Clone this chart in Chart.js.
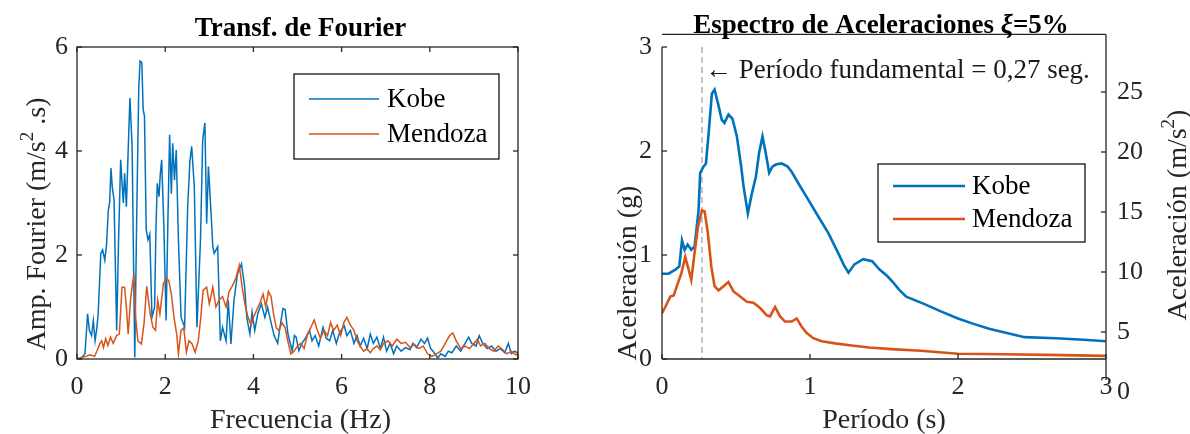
<!DOCTYPE html>
<html lang="es">
<head>
<meta charset="UTF-8">
<title>Transformada de Fourier y espectro de aceleraciones</title>
<style>
  body { margin: 0; background: #fff; }
  canvas { position: absolute; top: 0; }
  #fourier { left: 0; }
  #espectro { left: 590px; }
</style>
<script src="https://cdn.jsdelivr.net/npm/chart.js"></script>
</head>
<body>
<canvas id="fourier" width="590" height="434"></canvas>
<canvas id="espectro" width="600" height="434"></canvas>
<script>
// Transf. de Fourier
const fourierKobeHz = [0.00,0.10,0.18,0.22,0.24,0.28,0.33,0.37,0.41,0.45,0.48,0.54,0.58,0.63,0.67,0.71,0.74,0.77,0.80,0.84,
  0.87,0.90,0.94,0.99,1.02,1.05,1.08,1.12,1.16,1.20,1.25,1.28,1.31,1.35,1.40,1.43,1.47,1.50,1.53,1.57,
  1.61,1.65,1.70,1.76,1.79,1.82,1.86,1.89,1.92,1.97,2.02,2.06,2.10,2.14,2.17,2.21,2.25,2.30,2.36,2.44,
  2.51,2.56,2.60,2.66,2.72,2.80,2.85,2.90,2.94,2.98,3.04,3.08,3.11,3.19,3.25,3.30,3.38,3.43,3.49,3.56,
  3.64,3.73,3.80,3.85,3.92,3.97,4.03,4.10,4.18,4.26,4.32,4.40,4.47,4.55,4.60,4.67,4.72,4.78,4.82,4.88,
  4.93,4.97,5.03,5.10,5.18,5.27,5.33,5.40,5.48,5.58,5.65,5.73,5.80,5.88,5.95,6.06,6.12,6.20,6.28,6.35,
  6.42,6.50,6.58,6.65,6.72,6.80,6.88,6.95,7.02,7.10,7.18,7.25,7.35,7.45,7.55,7.62,7.70,7.80,7.88,7.95,
  8.02,8.10,8.18,8.25,8.35,8.42,8.50,8.60,8.70,8.80,8.88,8.95,9.05,9.12,9.20,9.30,9.40,9.50,9.60,9.70,
  9.78,9.85,9.92,10.00];
const fourierKobeAmp = [0.00,0.02,0.10,0.60,0.87,0.55,0.45,0.74,0.35,0.60,0.87,2.03,2.10,1.90,2.20,2.86,3.00,3.67,3.30,3.06,
  1.80,0.55,2.20,3.83,3.40,3.00,3.57,2.93,4.00,5.02,4.09,2.00,0.03,2.50,5.20,5.73,5.70,4.80,4.67,2.48,
  2.29,2.40,0.80,1.00,2.50,3.38,3.12,3.57,3.83,2.54,0.74,2.60,4.31,3.18,4.15,3.44,4.02,2.29,0.80,0.61,
  2.93,3.80,4.09,3.31,0.61,2.29,4.21,4.54,2.60,3.70,2.80,2.16,2.03,2.16,0.35,0.61,0.35,1.13,0.29,1.13,
  1.64,1.83,1.40,0.80,0.48,0.90,0.55,0.87,1.06,0.80,1.00,0.70,0.45,0.30,0.60,0.97,0.95,0.50,0.35,0.16,
  0.45,0.42,0.16,0.30,0.40,0.55,0.35,0.45,0.25,0.61,0.40,0.35,0.55,0.30,0.50,0.64,0.45,0.55,0.30,0.45,
  0.25,0.40,0.20,0.48,0.30,0.42,0.20,0.42,0.15,0.30,0.10,0.25,0.15,0.22,0.18,0.30,0.22,0.38,0.30,0.40,
  0.20,0.12,0.02,0.10,0.05,0.15,0.12,0.25,0.15,0.30,0.42,0.30,0.25,0.45,0.30,0.20,0.25,0.15,0.20,0.12,
  0.30,0.10,0.15,0.12];
const fourierMendozaHz = [0.00,0.10,0.20,0.30,0.40,0.45,0.52,0.56,0.60,0.65,0.70,0.76,0.82,0.90,0.96,1.02,1.08,1.12,1.16,1.22,
  1.29,1.33,1.38,1.46,1.52,1.58,1.62,1.66,1.72,1.78,1.83,1.88,1.96,2.02,2.08,2.14,2.20,2.26,2.30,2.36,
  2.42,2.48,2.54,2.61,2.68,2.75,2.80,2.86,2.94,3.00,3.08,3.15,3.22,3.30,3.38,3.45,3.52,3.60,3.68,3.75,
  3.82,3.88,3.95,4.00,4.08,4.16,4.22,4.28,4.34,4.40,4.46,4.52,4.58,4.65,4.72,4.78,4.85,4.92,5.00,5.08,
  5.15,5.22,5.30,5.38,5.45,5.52,5.60,5.68,5.75,5.82,5.90,5.98,6.05,6.12,6.20,6.28,6.35,6.42,6.50,6.58,
  6.65,6.72,6.80,6.88,6.95,7.05,7.15,7.25,7.35,7.45,7.55,7.65,7.75,7.85,7.95,8.05,8.15,8.25,8.35,8.45,
  8.52,8.60,8.70,8.80,8.90,9.00,9.08,9.15,9.25,9.35,9.45,9.55,9.65,9.75,9.85,9.95,10.00];
const fourierMendozaAmp = [0.00,0.03,0.05,0.08,0.05,0.15,0.30,0.35,0.22,0.39,0.26,0.42,0.30,0.45,0.48,1.38,1.38,1.00,0.48,1.20,
  1.64,0.80,0.35,0.29,0.68,1.40,1.13,0.87,0.61,0.55,1.13,0.87,1.45,1.55,1.51,1.25,0.80,0.48,0.10,0.55,
  0.60,0.13,0.35,0.29,0.13,0.35,0.74,1.32,1.38,1.06,1.38,1.00,1.13,1.20,1.00,1.30,1.40,1.55,1.80,1.35,
  1.00,0.80,0.65,0.80,0.95,1.10,1.25,1.00,1.30,1.20,0.85,0.60,0.55,0.70,0.60,0.35,0.10,0.15,0.25,0.30,
  0.20,0.45,0.60,0.75,0.55,0.40,0.55,0.45,0.70,0.55,0.65,0.45,0.70,0.80,0.65,0.55,0.35,0.25,0.15,0.20,
  0.12,0.20,0.25,0.18,0.30,0.35,0.25,0.38,0.30,0.32,0.22,0.28,0.20,0.25,0.10,0.05,0.10,0.15,0.30,0.45,
  0.50,0.35,0.20,0.25,0.20,0.30,0.38,0.25,0.30,0.20,0.15,0.25,0.18,0.10,0.15,0.08,0.10];
const fourierXTicks = [0, 2, 4, 6, 8, 10];
const fourierYTicks = [0, 2, 4, 6];

// Espectro de aceleraciones, xi = 5%
const espectroKobeT = [0.00,0.045,0.09,0.117,0.135,0.153,0.173,0.198,0.22,0.247,0.258,0.28,0.297,0.315,0.337,0.355,0.378,0.404,0.422,0.449,
  0.476,0.506,0.535,0.551,0.58,0.607,0.634,0.656,0.679,0.701,0.724,0.746,0.769,0.809,0.849,0.876,0.921,0.989,1.056,1.124,
  1.19,1.23,1.26,1.30,1.36,1.42,1.47,1.52,1.56,1.60,1.65,1.77,1.88,2.00,2.10,2.21,2.33,2.45,2.66,2.85,3.00];
const espectroKobeSa = [0.82,0.82,0.86,0.89,1.14,1.05,1.10,1.05,1.08,1.43,1.79,1.85,1.88,2.17,2.55,2.59,2.46,2.30,2.27,2.35,
  2.31,2.14,1.85,1.66,1.40,1.59,1.75,1.98,2.14,1.98,1.79,1.85,1.87,1.88,1.85,1.80,1.69,1.53,1.37,1.21,
  1.02,0.90,0.83,0.91,0.96,0.94,0.86,0.80,0.74,0.67,0.60,0.53,0.46,0.39,0.34,0.29,0.25,0.21,0.20,0.185,0.17];
const espectroMendozaT = [0.00,0.022,0.056,0.079,0.10,0.13,0.157,0.18,0.198,0.22,0.243,0.27,0.288,0.31,0.333,0.355,0.382,0.416,0.449,0.483,
  0.528,0.573,0.618,0.663,0.708,0.73,0.764,0.798,0.831,0.876,0.91,0.944,0.978,1.022,1.079,1.169,1.28,1.40,1.55,1.75,
  2.00,2.30,2.60,3.00];
const espectroMendozaSa = [0.44,0.50,0.60,0.61,0.70,0.82,0.98,0.86,0.76,1.02,1.27,1.43,1.42,1.21,0.89,0.70,0.66,0.70,0.74,0.65,
  0.60,0.55,0.54,0.49,0.42,0.41,0.50,0.41,0.36,0.36,0.39,0.31,0.25,0.20,0.17,0.15,0.13,0.11,0.095,0.08,
  0.05,0.045,0.04,0.03];
const espectroXTicks = [0, 1, 2, 3];
const espectroYTicks = [0, 1, 2, 3];
const espectroY2Ticks = [0, 5, 10, 15, 20, 25];
const periodoFundamental = 0.27;

Chart.defaults.font.family = "'Liberation Serif', 'Times New Roman', serif";
Chart.defaults.color = '#262626';

const AXIS = '#262626';
const KOBE = '#0072BD';
const MENDOZA = '#D95319';
const TICK_FONT = { size: 26 };
const LABEL_FONT = "28px 'Liberation Serif'";
const SUP_FONT = "19px 'Liberation Serif'";
const TITLE_FONT = "bold 27px 'Liberation Serif'";

function pts(xs, ys) {
    return xs.map((x, i) => ({ x: x, y: ys[i] }));
}

function fixedTicks(values) {
    return s => { s.ticks = values.map(v => ({ value: v })); };
}

function line(ctx, x1, y1, x2, y2) {
    ctx.beginPath();
    ctx.moveTo(x1, y1);
    ctx.lineTo(x2, y2);
    ctx.stroke();
}

// texto en varias partes (para superíndices), centrado en (x, y)
function drawRich(ctx, parts, x, y, rot) {
    ctx.save();
    ctx.translate(x, y);
    if (rot) ctx.rotate(rot);
    let total = 0;
    parts.forEach(p => { ctx.font = p.font; p.w = ctx.measureText(p.text).width; total += p.w; });
    let cx = -total / 2;
    ctx.textAlign = 'left';
    ctx.textBaseline = 'alphabetic';
    parts.forEach(p => { ctx.font = p.font; ctx.fillText(p.text, cx, p.dy || 0); cx += p.w; });
    ctx.restore();
}

function drawLegend(chart, box, lw) {
    const ctx = chart.ctx;
    ctx.save();
    ctx.fillStyle = '#fff';
    ctx.fillRect(box.x, box.y, box.w, box.h);
    ctx.strokeStyle = '#000';
    ctx.lineWidth = 1.2;
    ctx.strokeRect(box.x, box.y, box.w, box.h);
    ctx.font = "27px 'Liberation Serif'";
    ctx.textBaseline = 'middle';
    ctx.textAlign = 'left';
    chart.data.datasets.forEach((ds, i) => {
        const yy = box.y + box.row0 + i * box.gap;
        ctx.strokeStyle = ds.borderColor;
        ctx.lineWidth = lw;
        line(ctx, box.x + box.l1, yy, box.x + box.l2, yy);
        ctx.fillStyle = '#000';
        ctx.fillText(ds.label, box.x + box.tx, yy + 1);
    });
    ctx.restore();
}

function axisOpts(extra) {
    return Object.assign({
        type: 'linear',
        grid: { display: false, drawTicks: false },
        border: { display: false },
    }, extra);
}

const fourierFrame = {
    id: 'fourierFrame',
    afterDraw(chart) {
        const { ctx, chartArea: a, scales: { x, y } } = chart;
        ctx.save();
        ctx.strokeStyle = AXIS;
        ctx.lineWidth = 1.3;
        ctx.strokeRect(a.left, a.top, a.right - a.left, a.bottom - a.top);
        x.ticks.forEach(t => {
            const p = x.getPixelForValue(t.value);
            line(ctx, p, a.bottom, p, a.bottom - 5);
            line(ctx, p, a.top, p, a.top + 5);
        });
        y.ticks.forEach(t => {
            const p = y.getPixelForValue(t.value);
            line(ctx, a.left, p, a.left + 5, p);
            line(ctx, a.right, p, a.right - 5, p);
        });
        ctx.fillStyle = '#000';
        drawRich(ctx, [{ text: 'Transf. de Fourier', font: TITLE_FONT }], (a.left + a.right) / 2 + 3, 36);
        ctx.fillStyle = AXIS;
        drawRich(ctx, [{ text: 'Frecuencia (Hz)', font: LABEL_FONT }], (a.left + a.right) / 2 + 3, 428);
        drawRich(ctx, [
            { text: 'Amp. Fourier (m/s', font: LABEL_FONT },
            { text: '2', font: SUP_FONT, dy: -12 },
            { text: ' .s)', font: LABEL_FONT }
        ], 45, 224, -Math.PI / 2);
        ctx.restore();
        drawLegend(chart, { x: 294, y: 74, w: 205, h: 85, row0: 25, gap: 35, l1: 15, l2: 85, tx: 93 }, 1.5);
    }
};

new Chart(document.getElementById('fourier'), {
    type: 'scatter',
    data: {
        datasets: [
            { label: 'Kobe', data: pts(fourierKobeHz, fourierKobeAmp), borderColor: KOBE, borderWidth: 1.5,
              showLine: true, pointRadius: 0, order: 1 },
            { label: 'Mendoza', data: pts(fourierMendozaHz, fourierMendozaAmp), borderColor: MENDOZA, borderWidth: 1.5,
              showLine: true, pointRadius: 0, order: 0 }
        ]
    },
    options: {
        responsive: false,
        animation: false,
        layout: { padding: { top: 47, right: 72, left: 0, bottom: 0 } },
        plugins: { legend: { display: false }, tooltip: { enabled: false } },
        scales: {
            x: axisOpts({
                min: 0, max: 10,
                afterBuildTicks: fixedTicks(fourierXTicks),
                afterFit: s => { s.height = 75; },
                ticks: { font: TICK_FONT, padding: 13, autoSkip: false, maxRotation: 0, callback: v => String(v) }
            }),
            y: axisOpts({
                min: 0, max: 6,
                afterBuildTicks: fixedTicks(fourierYTicks),
                afterFit: s => { s.width = 77; },
                ticks: { font: TICK_FONT, padding: 9, autoSkip: false, callback: v => String(v) }
            })
        }
    },
    plugins: [fourierFrame]
});

const espectroFrame = {
    id: 'espectroFrame',
    beforeDatasetsDraw(chart) {
        const { ctx, chartArea: a, scales: { x } } = chart;
        const px = x.getPixelForValue(periodoFundamental);
        ctx.save();
        ctx.strokeStyle = '#8a8a8a';
        ctx.lineWidth = 1;
        ctx.setLineDash([6, 4]);
        line(ctx, px, a.top, px, a.bottom);
        ctx.restore();
    },
    afterDraw(chart) {
        const { ctx, chartArea: a, scales: { x, y, y2 } } = chart;
        const top = y2.getPixelForValue(29.8);
        ctx.save();
        ctx.strokeStyle = AXIS;
        ctx.lineWidth = 1.3;
        line(ctx, a.left, a.top, a.left, a.bottom);
        line(ctx, a.left, a.bottom, a.right, a.bottom);
        line(ctx, a.left, top, a.right, top);
        line(ctx, a.right, top, a.right, 380);
        x.ticks.forEach(t => {
            const p = x.getPixelForValue(t.value);
            line(ctx, p, a.bottom, p, a.bottom - 5);
        });
        y.ticks.forEach(t => {
            const p = y.getPixelForValue(t.value);
            line(ctx, a.left, p, a.left + 5, p);
        });
        y2.ticks.forEach(t => {
            const p = y2.getPixelForValue(t.value);
            if (p >= a.top && p <= a.bottom) line(ctx, a.right, p, a.right - 5, p);
        });

        const px = x.getPixelForValue(periodoFundamental);
        ctx.fillStyle = '#1a1a1a';
        ctx.font = "27px 'Liberation Serif'";
        ctx.textAlign = 'left';
        ctx.textBaseline = 'alphabetic';
        ctx.fillText('\u2190 Período fundamental = 0,27 seg.', px + 3, 78);

        ctx.fillStyle = '#000';
        drawRich(ctx, [
            { text: 'Espectro de Aceleraciones ', font: TITLE_FONT },
            { text: 'ξ', font: "italic bold 27px 'Liberation Serif'" },
            { text: '=5%', font: TITLE_FONT }
        ], (a.left + a.right) / 2 - 3, 33);
        ctx.fillStyle = AXIS;
        drawRich(ctx, [{ text: 'Período (s)', font: LABEL_FONT }], (a.left + a.right) / 2, 428);
        drawRich(ctx, [{ text: 'Aceleración (g)', font: LABEL_FONT }], 46, 273, -Math.PI / 2);
        drawRich(ctx, [
            { text: 'Aceleración (m/s', font: LABEL_FONT },
            { text: '2', font: SUP_FONT, dy: -12 },
            { text: ')', font: LABEL_FONT }
        ], 596, 215, -Math.PI / 2);
        ctx.restore();
        drawLegend(chart, { x: 288, y: 164, w: 207, h: 78, row0: 22, gap: 33, l1: 15, l2: 87, tx: 94 }, 2.6);
    }
};

new Chart(document.getElementById('espectro'), {
    type: 'scatter',
    data: {
        datasets: [
            { label: 'Kobe', data: pts(espectroKobeT, espectroKobeSa), borderColor: KOBE, borderWidth: 2.6,
              showLine: true, pointRadius: 0, yAxisID: 'y', order: 1 },
            { label: 'Mendoza', data: pts(espectroMendozaT, espectroMendozaSa), borderColor: MENDOZA, borderWidth: 2.6,
              showLine: true, pointRadius: 0, yAxisID: 'y', order: 0 }
        ]
    },
    options: {
        responsive: false,
        animation: false,
        layout: { padding: { top: 47, right: 0, left: 0, bottom: 0 } },
        plugins: { legend: { display: false }, tooltip: { enabled: false } },
        scales: {
            x: axisOpts({
                min: 0, max: 3,
                afterBuildTicks: fixedTicks(espectroXTicks),
                afterFit: s => { s.height = 75; },
                ticks: { font: TICK_FONT, padding: 13, autoSkip: false, maxRotation: 0, callback: v => String(v) }
            }),
            y: axisOpts({
                position: 'left',
                min: 0, max: 3,
                afterBuildTicks: fixedTicks(espectroYTicks),
                afterFit: s => { s.width = 72; },
                ticks: { font: TICK_FONT, padding: 10, autoSkip: false, callback: v => String(v) }
            }),
            y2: axisOpts({
                position: 'right',
                min: 2.75, max: 28.75,
                afterBuildTicks: fixedTicks(espectroY2Ticks),
                afterFit: s => { s.width = 84; },
                ticks: { font: TICK_FONT, padding: 11, autoSkip: false, callback: v => String(v) }
            })
        }
    },
    plugins: [espectroFrame]
});
</script>
</body>
</html>
